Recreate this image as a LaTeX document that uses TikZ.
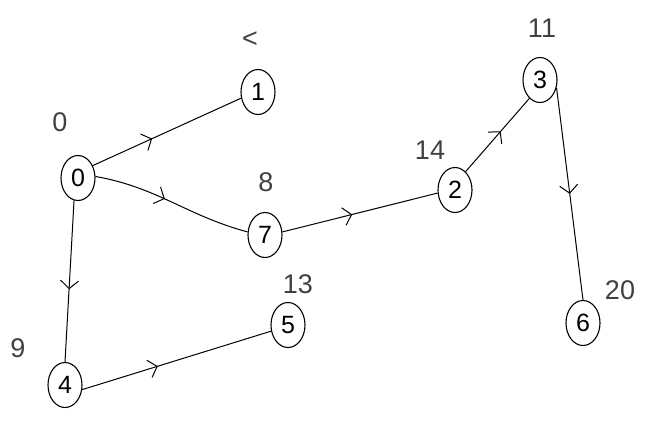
\documentclass[tikz,border=0pt]{standalone}
\usepackage{fontspec}
\setmainfont{Liberation Sans}
\usetikzlibrary{shapes.geometric,decorations.markings,arrows.meta}
\begin{document}
\begin{tikzpicture}[x=1pt,y=-1pt,
  vtx/.style={ellipse,draw,line width=1.1pt,minimum width=34pt,minimum height=45pt,inner sep=0pt,font=\fontsize{25}{27}\selectfont},
  lbl/.style={font=\fontsize{27}{29}\selectfont,text=black!75},
  edge/.style={line width=1pt,postaction={decorate},decoration={markings,mark=at position #1 with {\arrow[line width=1pt]{Straight Barb[length=8pt,width=18pt]}}}},
  edge/.default=0.45]
\useasboundingbox (0,0) rectangle (653,426);
\node[vtx] (n0) at (78,178) {0};
\node[vtx] (n1) at (258,92) {1};
\node[vtx] (n7) at (265,235) {7};
\node[vtx] (n2) at (455,190) {2};
\node[vtx] (n3) at (540,80) {3};
\node[vtx] (n6) at (583,323) {6};
\node[vtx] (n5) at (288,325) {5};
\node[vtx] (n4) at (65,385) {4};
\node[lbl] (l0) at (60,122) {0};
\node[lbl] (l1) at (250,40) {<};
\node[lbl] (l7) at (266,182) {8};
\node[lbl] (l2) at (430,150) {14};
\node[lbl] (l3) at (542,28) {11};
\node[lbl] (l6) at (620,290) {20};
\node[lbl] (l5) at (298,284) {13};
\node[lbl] (l4) at (18,348) {9};
\draw[edge=0.4] (n0.40) -- (n1.-160);
\draw[edge=0.45] (n0.5) to[out=-10,in=165] (n7.170);
\draw[edge=0.45] (n7.10) -- (n2.-170);
\draw[edge=0.55] (n2.60) -- (n3.-120);
\draw[edge=0.5] (n3.-25) -- (n6.north);
\draw[edge=0.55] (n0.-100) -- (n4.north);
\draw[edge=0.4] (n4.-15) -- (n5.-160);
\end{tikzpicture}
\end{document}
